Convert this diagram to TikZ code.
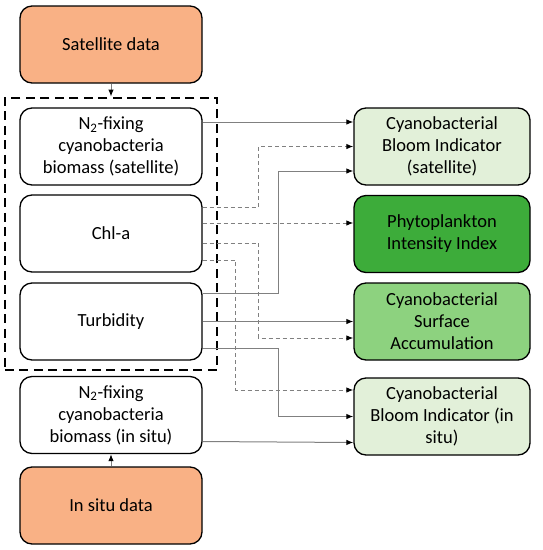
\documentclass[tikz,border=0pt]{standalone}
\usepackage{fontspec}
\setmainfont{Carlito}
\usetikzlibrary{arrows.meta,fit}
\definecolor{srcorange}{HTML}{F9B185}
\definecolor{palegreen}{HTML}{E2F0D9}
\definecolor{midgreen}{HTML}{8DD27F}
\definecolor{deepgreen}{HTML}{3DAC3A}
\definecolor{linkgray}{HTML}{808080}
\tikzset{
  box/.style={draw=black,line width=1.3pt,rounded corners=12pt,align=center,
    minimum width=182pt,minimum height=77pt,inner sep=2pt,
    font=\fontsize{18.5}{22}\selectfont},
  outbox/.style={box,minimum width=176pt},
  srcbox/.style={box,fill=srcorange},
  link/.style={draw=linkgray,line width=1pt,
    -{Latex[length=7pt,width=5.5pt,color=black,fill=black]}},
  dlink/.style={link,dash pattern=on 4pt off 3pt},
  grp/.style={draw=black,line width=2.6pt,dash pattern=on 9pt off 5.5pt,
    inner xsep=14.5pt,inner ysep=9.5pt}
}
\begin{document}
\begin{tikzpicture}[x=1pt,y=-1pt]
\useasboundingbox (0,0) rectangle (542,550);
% left column
\node[srcbox] (satdata) at (111,44.5) {Satellite data};
\node[box] (n2sat) at (111,146.5) {N\textsubscript{2}-fixing\\cyanobacteria\\biomass (satellite)};
\node[box] (chla) at (111,233.5) {Chl-a};
\node[box] (turb) at (111,321.5) {Turbidity};
\node[box] (n2is) at (111,415) {N\textsubscript{2}-fixing\\cyanobacteria\\biomass (in situ)};
\node[srcbox] (isdata) at (111,505.5) {In situ data};
\node[grp,fit=(n2sat)(chla)(turb)] (satgrp) {};
% right column
\node[outbox,fill=palegreen] (cysat) at (442,146.5) {Cyanobacterial\\Bloom Indicator\\(satellite)};
\node[outbox,fill=deepgreen] (phyto) at (442,234) {Phytoplankton\\Intensity Index};
\node[outbox,fill=midgreen] (surf) at (442,321.5) {Cyanobacterial\\Surface\\Accumulation};
\node[outbox,fill=palegreen] (bis) at (442,416.5) {Cyanobacterial\\Bloom Indicator (in\\situ)};
% inputs
\draw[link] (satdata.south) -- (satgrp.north);
\draw[link] (isdata.north) -- (n2is.south);
% connectors
\draw[link] ([yshift=24.5pt]n2sat.east) -- ([yshift=24.5pt]cysat.west);
\draw[dlink] ([yshift=26.5pt]chla.east) -| ([xshift=-95pt]cysat.west) -- (cysat.west);
\draw[link] ([yshift=28.5pt]turb.east) -| ([xshift=-75pt,yshift=-24.5pt]cysat.west) -- ([yshift=-24.5pt]cysat.west);
\draw[dlink] ([yshift=10.5pt]chla.east) -- ([yshift=11pt]phyto.west);
\draw[dlink] ([yshift=-9.5pt]chla.east) -| ([xshift=-95pt,yshift=-16.5pt]surf.west) -- ([yshift=-16.5pt]surf.west);
\draw[link] (turb.east) -- (surf.west);
\draw[dlink] ([yshift=-26.5pt]chla.east) -| ([xshift=-118pt,yshift=26.5pt]bis.west) -- ([yshift=26.5pt]bis.west);
\draw[link] ([yshift=-26.5pt]turb.east) -| ([xshift=-75pt]bis.west) -- (bis.west);
\draw[link] ([yshift=-26.5pt]n2is.east) -- ([yshift=-26pt]bis.west);
\end{tikzpicture}
\end{document}
